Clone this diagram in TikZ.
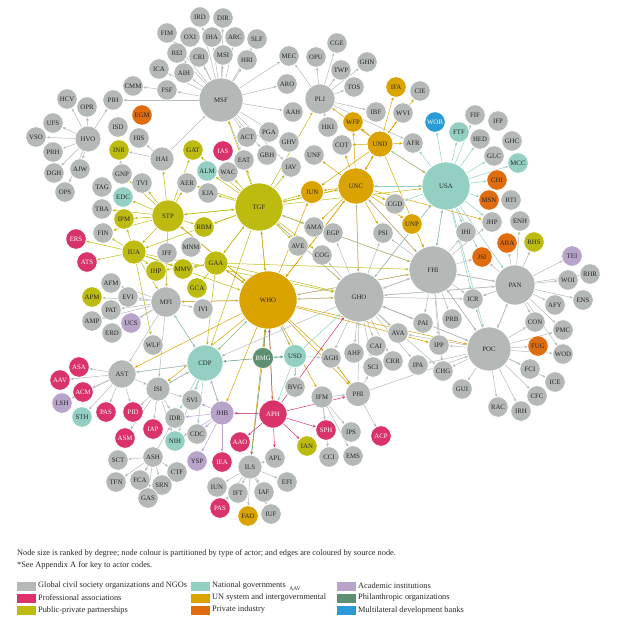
\documentclass[tikz,border=0pt]{standalone}
\usepackage{fontspec}
\setmainfont{Liberation Serif}
\usetikzlibrary{arrows.meta}
\pgfdeclarelayer{bg}\pgfsetlayers{bg,main}
\definecolor{cgr}{HTML}{B4B9B7}
\definecolor{cpk}{HTML}{D9336A}
\definecolor{col}{HTML}{BDBB10}
\definecolor{ctl}{HTML}{93CFC2}
\definecolor{cgd}{HTML}{DAA300}
\definecolor{cor}{HTML}{E06C10}
\definecolor{cpu}{HTML}{B8A3CB}
\definecolor{cgn}{HTML}{5D8F72}
\definecolor{cbl}{HTML}{2A9BD6}
\tikzset{
 nd/.style={circle,draw=white,line width=0.6pt,inner sep=0pt,font=\fontsize{6.8}{7}\selectfont,text=black!85},
 gr/.style={nd,fill=cgr}, pk/.style={nd,fill=cpk,text=white}, ol/.style={nd,fill=col},
 tl/.style={nd,fill=ctl}, gd/.style={nd,fill=cgd}, orr/.style={nd,fill=cor},
 pu/.style={nd,fill=cpu}, gn/.style={nd,fill=cgn,text=white}, bl/.style={nd,fill=cbl,text=white},
 eg/.style={line width=0.5pt,-{Stealth[length=3.2pt,width=2.6pt]}},
 lg/.style={anchor=west,font=\fontsize{8.3}{9}\selectfont,text=black!85,inner sep=0pt},
 sw/.style={minimum width=19pt,minimum height=9pt,inner sep=0pt}
}
\newcommand{\Nd}[6]{\node[#6,minimum size=#5*2pt] (#1) at (#3,#4) {#2};}
\begin{document}
\begin{tikzpicture}[x=1pt,y=-1pt]
\useasboundingbox (0,0) rectangle (639,635);
% gray
\foreach \n/\x/\y in {IRD/200/17,DIR/223/18,FIM/167/33,OXI/190/37,IHA/212/37,ARC/235/37,SLF/257/39,REI/177/53,CRI/199/57,MSI/223/55,HRI/247/60,ICA/159/69,AIH/184/73,CMM/133/86,FSF/167/90,MEC/289/56,OPU/316/57,ARO/287/84,AAH/293/112,HCV/67/99,OPR/87/107,PIH/113/100,ISD/118/127,HIS/139/138,ACT/247/137,PGA/269/132,GHV/289/142,EAT/244/160,GBH/267/155,HKI/328/127,UNF/314/155,IAV/291/167,WAC/228/172,GNP/122/174,TVI/142/183,AER/187/183,EJA/208/193,TAG/102/187,TBA/102/209,AMA/314/227,EGP/333/233,FIN/103/233,IFF/167/253,MNM/191/247,AVE/298/246,COG/322/255,VSO/36/137,UFS/53/123,PRH/53/152,DGH/54/173,AJW/80/169,OPS/65/192,CGE/337/43,TWP/341/70,GHN/367/62,TOS/354/87,CIE/420/91,IBF/376/112,WVI/403/113,FIF/475/115,IFP/498/121,HED/480/139,GHC/512/141,COT/342/145,AFR/413/143,GLC/494/156,RTI/511/200,CGD/395/204,JHP/492/222,ENH/520/221,IHI/466/232,PSI/383/233,WOI/568/280,RHR/590/274,ENS/583/300,ICR/473/299,AFY/555/305,CON/535/322,PMC/563/330,PAI/423/323,PRB/452/319,AVA/398/333,IPP/439/345,CAI/376/346,AHF/354/353,WOD/563/354,AGH/331/358,SCI/373/367,CRR/393/361,IPA/418/365,CHG/443/371,FCI/530/369,ICE/555/382,GUI/462/389,CFC/537/396,RAC/498/407,IRH/521/411,IPS/351/432,CCI/329/457,EMS/353/456,AFM/111/283,EVI/128/297,PAT/111/310,IVI/203/309,AMP/92/321,ERD/112/333,WLF/153/345,BVG/295/387,SVI/192/400,IDR/175/418,CDC/197/434,ASH/153/457,SCT/118/460,APL/275/458,CTF/177/472,EFI/287/482,TFN/116/482,FCA/140/480,SRN/162/485,IUN/217/487,IFT/238/493,IAF/264/492,GAS/148/498,IUF/271/514}
  {\Nd{\n}{\n}{\x}{\y}{10.2}{gr}}
\Nd{MSF}{MSF}{221}{100}{22}{gr}
\Nd{PLI}{PLI}{320}{99}{15}{gr}
\Nd{HVO}{HVO}{88}{139}{13}{gr}
\Nd{HAI}{HAI}{162}{159}{12}{gr}
\Nd{GHO}{GHO}{359}{297}{25}{gr}
\Nd{FHI}{FHI}{433}{270}{24}{gr}
\Nd{PAN}{PAN}{515}{285}{20}{gr}
\Nd{POC}{POC}{489}{349}{22}{gr}
\Nd{MFI}{MFI}{166}{302}{15}{gr}
\Nd{AST}{AST}{122}{374}{14}{gr}
\Nd{ISI}{ISI}{158}{389}{12}{gr}
\Nd{ILS}{ILS}{250}{467}{12}{gr}
\Nd{PHI}{PHI}{358}{394}{12.5}{gr}
\Nd{IFM}{IFM}{322}{397}{11}{gr}
% pink
\foreach \n/\x/\y in {IAS/223/151,ERS/76/239,ATS/87/262,ASA/79/367,AAV/60/380,ACM/83/392,PAS/106/412,PID/133/412,ASM/125/438,IAP/153/429,IEA/222/462,AAO/240/442,SPH/326/430,ACP/381/436}
  {\Nd{\n}{\n}{\x}{\y}{10.2}{pk}}
\Nd{PASb}{PAS}{220}{508}{10.2}{pk}
\Nd{APH}{APH}{273}{414}{14}{pk}
% olive
\foreach \n/\x/\y in {GAT/193/150,INR/119/150,IPM/124/219,RBM/204/227,IHP/156/271,MMV/183/269,GCA/197/288,APM/92/297,IAN/307/446,RHS/534/242}
  {\Nd{\n}{\n}{\x}{\y}{10.2}{ol}}
\Nd{TGF}{TGF}{259}{207}{24}{ol}
\Nd{STP}{STP}{168}{216}{16}{ol}
\Nd{IUA}{IUA}{134}{252}{12}{ol}
\Nd{GAA}{GAA}{216}{263}{12}{ol}
% teal
\foreach \n/\x/\y in {ALM/207/171,EDC/123/197,FTF/459/132,MCC/518/163,STH/82/417,NIH/175/441}
  {\Nd{\n}{\n}{\x}{\y}{10.2}{tl}}
\Nd{USA}{USA}{446}{186}{24}{tl}
\Nd{CDP}{CDP}{205}{363}{18}{tl}
\Nd{USD}{USD}{295}{356}{11.5}{tl}
% gold
\foreach \n/\x/\y in {IFA/396/87,WFP/353/122,UNP/412/224,FAO/248/516}
  {\Nd{\n}{\n}{\x}{\y}{10.2}{gd}}
\Nd{UND}{UND}{380}{144}{13}{gd}
\Nd{UNC}{UNC}{356}{186}{18}{gd}
\Nd{JUN}{JUN}{312}{192}{11.5}{gd}
\Nd{WHO}{WHO}{268}{300}{29}{gd}
% orange
\foreach \n/\x/\y in {EGM/142/115,CHI/497/180,MSN/489/200,ABA/507/243,JSI/482/257,FUG/538/346}
  {\Nd{\n}{\n}{\x}{\y}{10.2}{orr}}
% purple
\foreach \n/\x/\y in {UCS/131/323,LSH/62/403,YSP/197/461,TEI/572/256}
  {\Nd{\n}{\n}{\x}{\y}{10.2}{pu}}
\Nd{JHB}{JHB}{222}{413}{12}{pu}
\Nd{BMG}{BMG}{263}{358}{10.5}{gn}
\Nd{WOB}{WOB}{435}{122}{10.2}{bl}
% edges
\begin{pgfonlayer}{bg}
\foreach \t in {IRD,DIR,FIM,OXI,IHA,ARC,SLF,REI,CRI,MSI,HRI,ICA,AIH,FSF,PIH,MEC,ARO,AAH,ACT,GBH,EAT,GHV,IAV} \draw[eg,cgr] (MSF)--(\t);
\draw[eg,cgr] (FSF)--(CMM);
\foreach \t in {HCV,OPR,PIH,UFS,VSO,PRH,DGH,AJW,OPS} \draw[eg,cgr] (HVO)--(\t);
\foreach \t in {HIS,INR,MSF} \draw[eg,cgr] (HAI)--(\t);
\foreach \t in {MEC,OPU,CGE,TWP,GHN,TOS,HKI,IBF,AFR} \draw[eg,cgr] (PLI)--(\t);
\foreach \t in {IFA,CIE,WVI,AFR,WFP,COT,UNC,JUN,PLI,USA,FHI} \draw[eg,cgd] (UND)--(\t);
\foreach \t in {UND,JUN,WFP,COT,USA,CGD,UNP,PSI,GHO,TGF,WHO,AMA,FHI,JHP,UNF} \draw[eg,cgd] (UNC)--(\t);
\foreach \t in {WOB,FTF,FIF,HED,GLC,MCC,CHI,MSN,AFR,UND,UNC,FHI,POC,GHO,PAN,JHP,IHI,CGD,JSI,ICR} \draw[eg,ctl] (USA)--(\t);
\foreach \t in {STP,GAT,EJA,AER,ALM,WAC,MSF,JUN,UNC,WHO,GHO,AMA,AVE,COG,RBM,GAA,IUA,CDP,FHI,USA,EAT,IAV,PLI} \draw[eg,col] (TGF)--(\t);
\foreach \t in {GNP,TVI,EDC,TBA,IPM,FIN,IUA,TGF,GAT,AER,RBM,MFI,HAI,WHO} \draw[eg,col] (STP)--(\t);
\foreach \t in {ERS,ATS,FIN,IHP,MMV,MFI,WLF,IPM,WHO,GHO} \draw[eg,col] (IUA)--(\t);
\foreach \t in {WHO,MMV,IHP,GCA,TGF,CDP,GHO,FHI} \draw[eg,col] (GAA)--(\t);
\foreach \t in {EVI,AFM,PAT,AMP,ERD,UCS,APM,IVI,AST,WHO,CDP,ISI} \draw[eg,cgr] (MFI)--(\t);
\foreach \t in {TGF,GHO,FHI,CDP,AST,ISI,USD,BMG,APH,JHB,ILS,AGH,PHI,IFM,UNC,GAA,STP,MFI,JUN,POC,IPP} \draw[eg,cgd] (WHO)--(\t);
\foreach \t in {FHI,WHO,USA,PAN,POC,AVA,CAI,AHF,SCI,CRR,AGH,PAI,IPA,CHG,ICR,TGF,UNC,PSI,EGP,COG,CDP} \draw[eg,cgr] (GHO)--(\t);
\foreach \t in {GHO,PAN,POC,PAI,PRB,ICR,IPP,USA,IHI,JSI,JHP,WHO,TGF,UNC,PSI,CHG} \draw[eg,cgr] (FHI)--(\t);
\foreach \t in {TEI,WOI,RHR,ENS,AFY,CON,PMC,WOD,FHI,POC,RHS,ABA,JSI,ENH,GHO,ICR} \draw[eg,cgr] (PAN)--(\t);
\foreach \t in {FUG,WOD,FCI,ICE,CFC,IRH,RAC,GUI,CHG,IPP,CON,PMC,PAN,FHI,GHO,ICR,AVA,IPA} \draw[eg,cgr] (POC)--(\t);
\foreach \t in {AST,ISI,SVI,IDR,NIH,CDC,JHB,WHO,MFI} \draw[eg,ctl] (CDP)--(\t);
\foreach \t in {BMG,AGH,BVG,APH,WHO,GHO} \draw[eg,ctl] (USD)--(\t);
\foreach \t in {CDP,USD,ILS,WHO} \draw[eg,cgn] (BMG)--(\t);
\foreach \t in {ASA,AAV,ACM,LSH,STH,PAS,PID,ISI,CDP} \draw[eg,cgr] (AST)--(\t);
\foreach \t in {IDR,IAP,ASM,PID,CDP,SVI,NIH} \draw[eg,cgr] (ISI)--(\t);
\foreach \t in {SCT,TFN,FCA,SRN,GAS,CTF,IDR} \draw[eg,cgr] (ASH)--(\t);
\foreach \t in {YSP,IEA,CDC,NIH,APH,CDP,SVI,IDR} \draw[eg,cpu] (JHB)--(\t);
\foreach \t in {JHB,AAO,APL,SPH,IAN,WHO,PHI,GHO} \draw[eg,cpk] (APH)--(\t);
\foreach \t in {IUN,IFT,PASb,FAO,IUF,IAF,EFI,APL} \draw[eg,cgr] (ILS)--(\t);
\foreach \t in {PHI,SPH,IPS,CCI,EMS} \draw[eg,cgr] (IFM)--(\t);
\foreach \t in {ACP,GHO,AGH,POC,SCI} \draw[eg,cgr] (PHI)--(\t);
\draw[eg,cgd] (AGH)--(PHI);
\draw[eg,cgr] (GNP)--(INR);
\end{pgfonlayer}
% legend
\node[lg] (c1) at (17,553) {Node size is ranked by degree; node colour is partitioned by type of actor; and edges are coloured by source node.};
\node[lg] (c2) at (17,565) {*See Appendix A for key to actor codes.};
\foreach \c/\t/\x/\y [count=\i] in {cgr/Global civil society organizations and NGOs/17/586,cpk/Professional associations/17/598,col/Public-private partnerships/17/610,ctl/National governments/191/586,cgd/UN system and intergovernmental/191/598,cor/Private industry/191/610,cpu/Academic institutions/337/586,cgn/Philanthropic organizations/337/598,cbl/Multilateral development banks/337/610}
 {\node[sw,fill=\c,anchor=west] (s\i) at (\x,\y) {}; \node[lg] (t\i) at (\x+21,\y) {\t};}
\node[font=\fontsize{5.5}{6}\selectfont,text=black!85,inner sep=0pt] (aav) at (295,589) {AAV};
\end{tikzpicture}
\end{document}
